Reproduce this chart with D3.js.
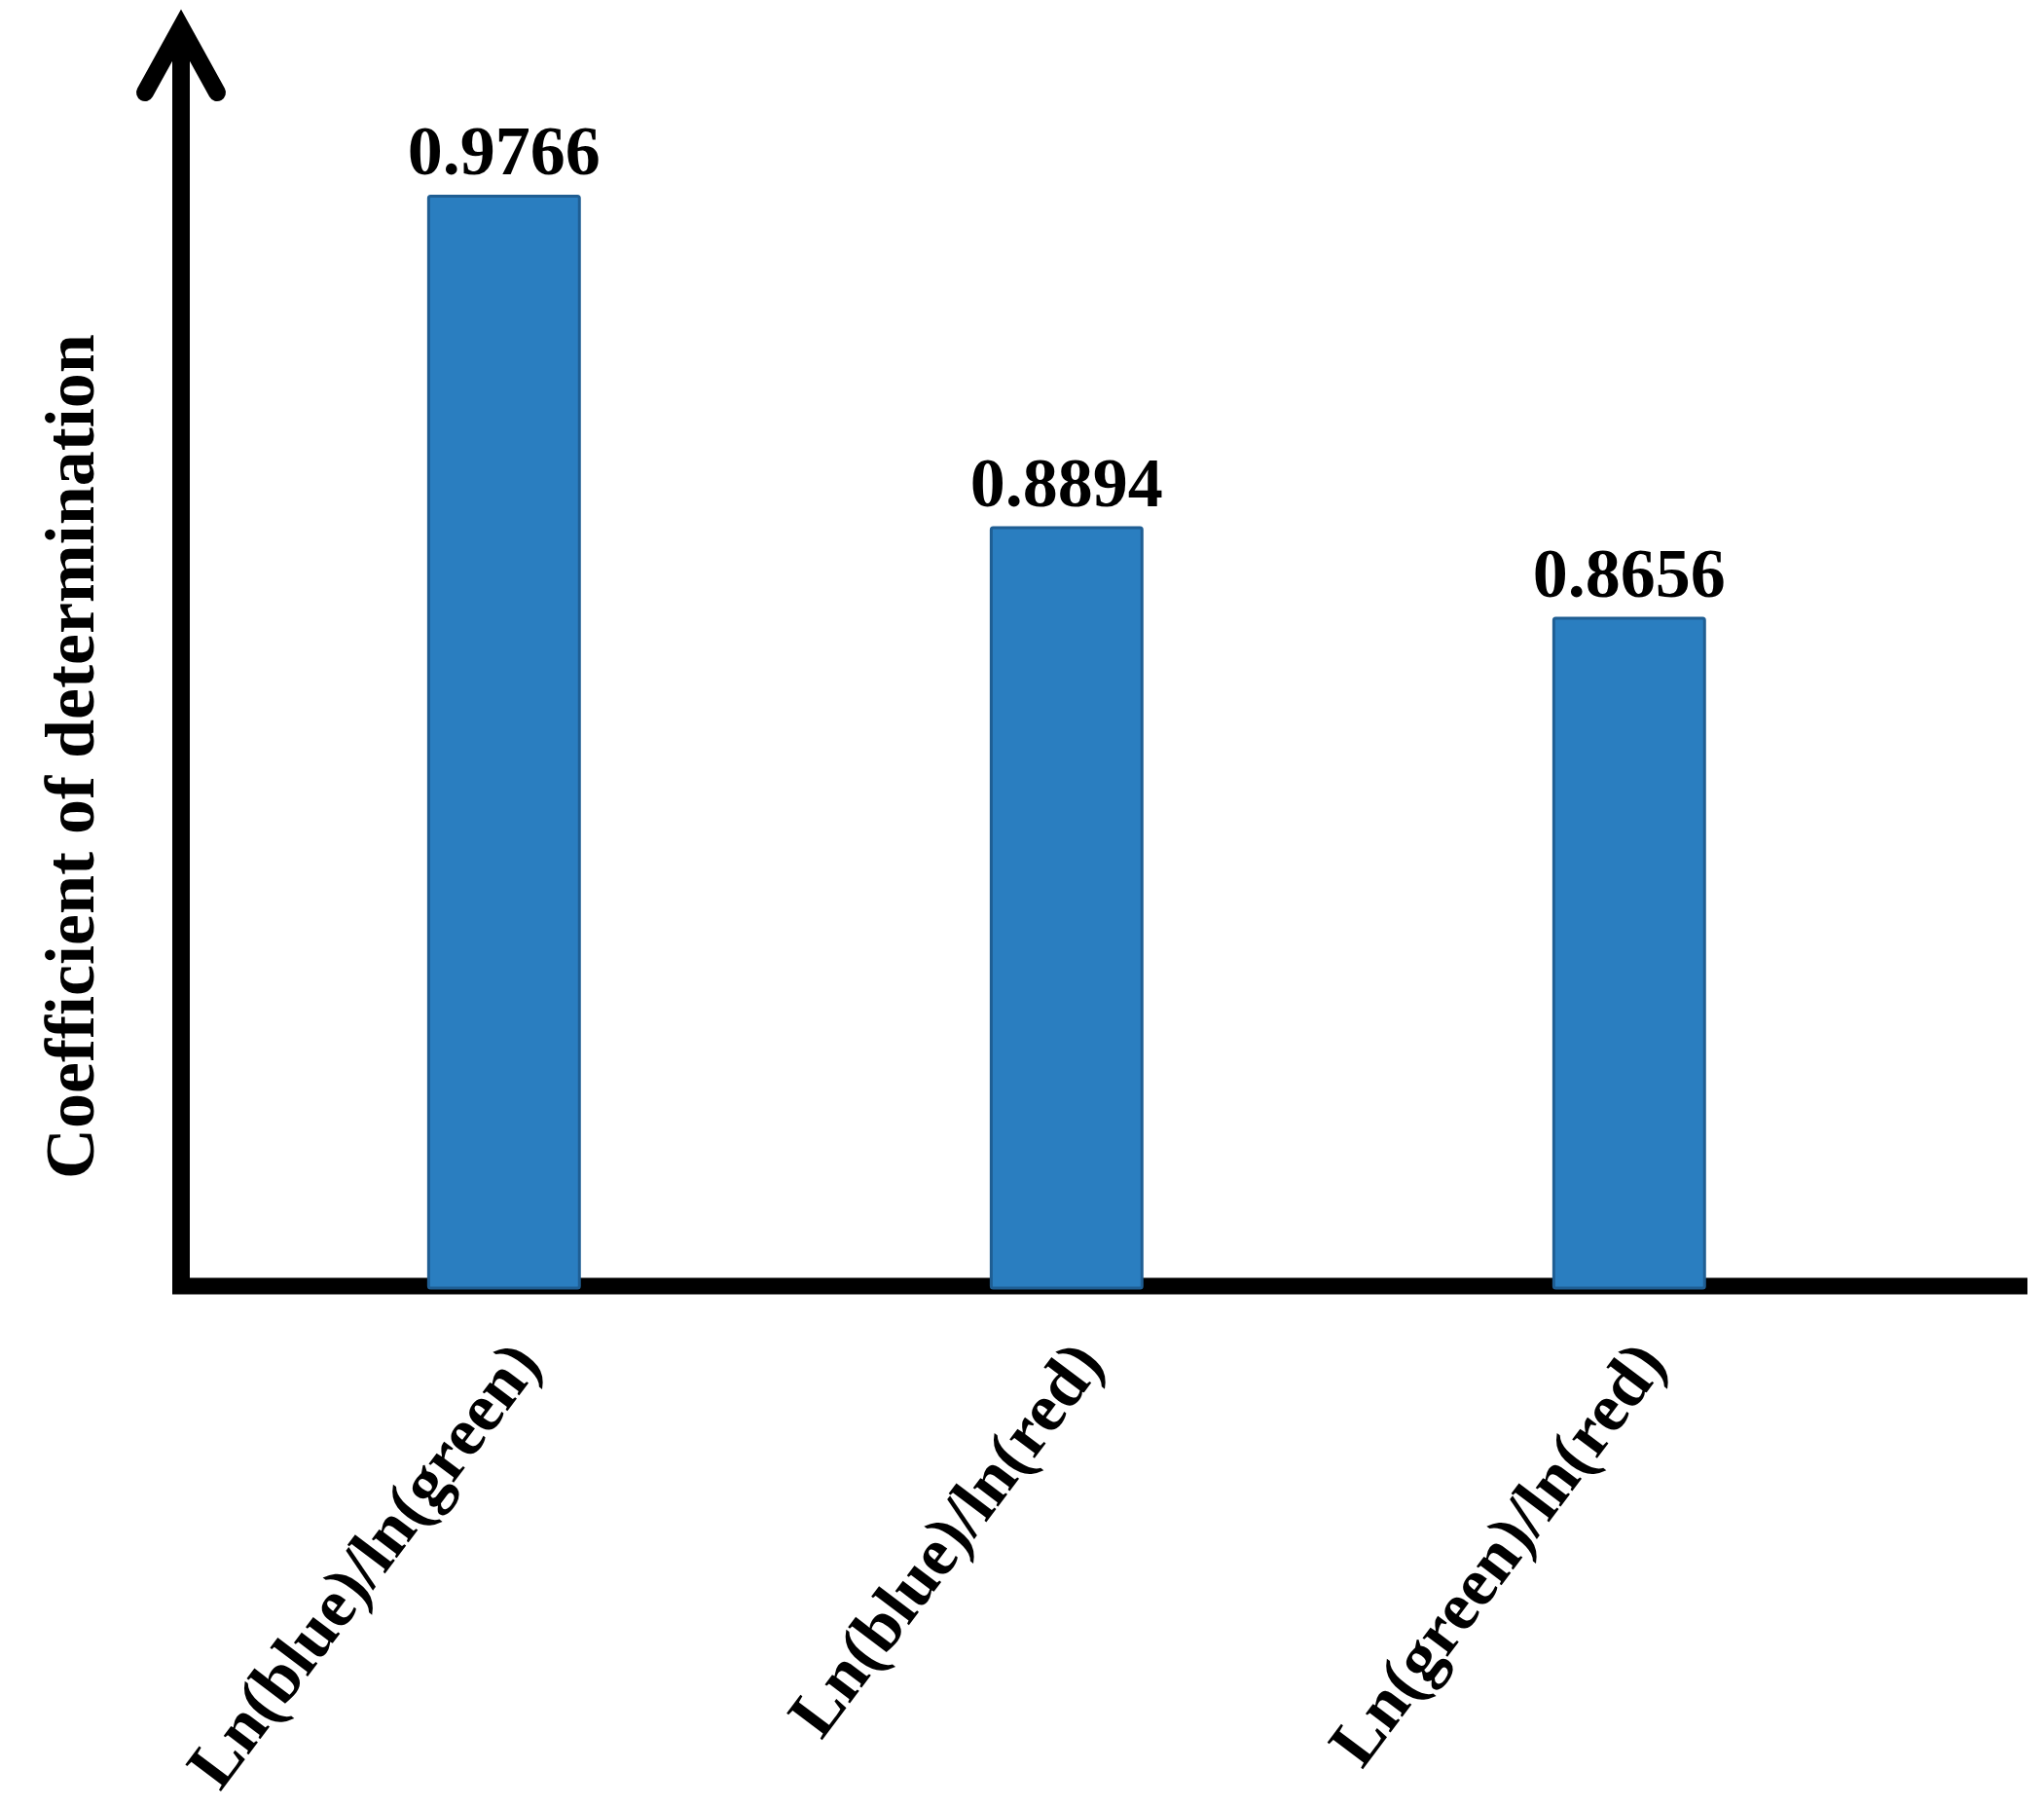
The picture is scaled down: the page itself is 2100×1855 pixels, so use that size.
<!DOCTYPE html>
<html>
<head>
<meta charset="utf-8">
<script src="https://cdn.jsdelivr.net/npm/d3@7"></script>
<style>
  html, body { margin: 0; padding: 0; background: #fff; }
  svg { display: block; }
</style>
</head>
<body>
<svg id="chart" width="2100" height="1855"></svg>
<script>
// ---- data ----
const categories = ["Ln(blue)/ln(green)", "Ln(blue)/ln(red)", "Ln(green)/ln(red)"];
const values = [0.9766, 0.8894, 0.8656];
const valueLabels = ["0.9766", "0.8894", "0.8656"];
const yTitle = "Coefficient of determination";

// ---- layout ----
const W = 2100, H = 1855;
const originX = 186, originY = 1321;
const axisRight = 2083;
const font = "'Liberation Serif', 'Times New Roman', serif";

const svg = d3.select("#chart");

const x = d3.scaleBand()
  .domain(categories)
  .range([originX, axisRight])
  .paddingInner(0.732)
  .paddingOuter(0.507)
  .align(0.434);

const y = d3.scaleLinear()
  .domain([0.69, 1.0])
  .range([originY, 110]);

const barColor = "#2a7ec0";
const barStroke = "#1f5e93";

// axes
const axisG = svg.append("g");
axisG.append("line")
  .attr("x1", originX - 9).attr("x2", axisRight)
  .attr("y1", originY).attr("y2", originY)
  .attr("stroke", "#000").attr("stroke-width", 17);
axisG.append("line")
  .attr("x1", originX).attr("x2", originX)
  .attr("y1", originY + 8).attr("y2", 30)
  .attr("stroke", "#000").attr("stroke-width", 18);
axisG.append("path")
  .attr("d", d3.line()([[originX - 37, 95], [originX, 28], [originX + 37, 95]]))
  .attr("fill", "none").attr("stroke", "#000").attr("stroke-width", 18)
  .attr("stroke-linecap", "round").attr("stroke-linejoin", "miter");

// bars
svg.append("g").selectAll("rect")
  .data(values)
  .join("rect")
  .attr("x", (d, i) => x(categories[i]))
  .attr("y", d => y(d))
  .attr("width", x.bandwidth())
  .attr("height", d => y.range()[0] + 2 - y(d))
  .attr("rx", 2)
  .attr("fill", barColor)
  .attr("stroke", barStroke)
  .attr("stroke-width", 3);

// value labels
svg.append("g").selectAll("text")
  .data(values)
  .join("text")
  .attr("x", (d, i) => x(categories[i]) + x.bandwidth() / 2)
  .attr("y", d => y(d) - 22)
  .attr("text-anchor", "middle")
  .attr("font-family", font)
  .attr("font-weight", "bold")
  .attr("font-size", 72)
  .attr("fill", "#000")
  .text((d, i) => valueLabels[i]);

// category labels
svg.append("g").selectAll("text")
  .data(categories)
  .join("text")
  .attr("transform", d => `translate(${x(d) + x.bandwidth() / 2 + 40},${originY + 80}) rotate(-53)`)
  .attr("text-anchor", "end")
  .attr("font-family", font)
  .attr("font-weight", "bold")
  .attr("font-size", 70)
  .attr("fill", "#000")
  .text(d => d);

// y title
svg.append("text")
  .attr("transform", `translate(96,777) rotate(-90)`)
  .attr("text-anchor", "middle")
  .attr("font-family", font)
  .attr("font-weight", "bold")
  .attr("font-size", 72)
  .attr("fill", "#000")
  .text(yTitle);
</script>
</body>
</html>
